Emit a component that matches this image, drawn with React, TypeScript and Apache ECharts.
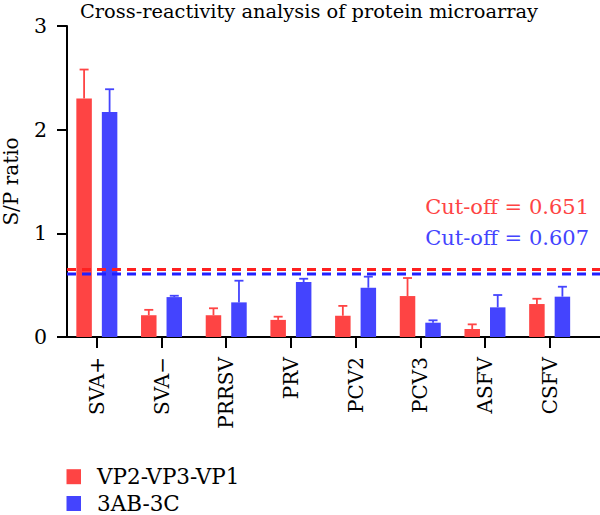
import React, { useEffect, useRef } from "react";
import * as echarts from "echarts";

const categories = ["SVA+", "SVA−", "PRRSV", "PRV", "PCV2", "PCV3", "ASFV", "CSFV"];
const seriesNames = ["VP2-VP3-VP1", "3AB-3C"];
const vpMeans = [2.3, 0.21, 0.21, 0.165, 0.205, 0.395, 0.077, 0.318];
const vpErrTops = [2.58, 0.262, 0.277, 0.196, 0.3, 0.569, 0.122, 0.369];
const abMeans = [2.17, 0.385, 0.334, 0.53, 0.475, 0.138, 0.286, 0.389];
const abErrTops = [2.39, 0.398, 0.543, 0.562, 0.582, 0.161, 0.405, 0.485];
const cutoffVp = 0.651;
const cutoffAb = 0.607;
const yTicks = [0, 1, 2, 3];

const RED = "#fe4444";
const BLUE = "#4444fe";
const FONT = "DejaVu Serif";
const BAR_W = 15.5;
const BAR_GAP = 10;

function errorSeries(name: string, means: number[], tops: number[], color: string, side: number) {
  return {
    type: "custom",
    name: name + "-err",
    xAxisIndex: 0,
    yAxisIndex: 0,
    silent: true,
    data: means.map((m, i) => [i, m, tops[i]]),
    renderItem: (params: any, api: any) => {
      const base = api.coord([api.value(0), api.value(1)]);
      const top = api.coord([api.value(0), api.value(2)]);
      const x = base[0] + side * (BAR_W + BAR_GAP) / 2;
      return {
        type: "group",
        children: [
          {
            type: "line",
            shape: { x1: x, y1: base[1], x2: x, y2: top[1] },
            style: { stroke: color, lineWidth: 1.8 },
          },
          {
            type: "line",
            shape: { x1: x - 4.5, y1: top[1], x2: x + 4.5, y2: top[1] },
            style: { stroke: color, lineWidth: 1.8 },
          },
        ],
      };
    },
    z: 1,
  };
}

function legendFor(name: string, top: number) {
  return {
    orient: "vertical",
    left: 66.5,
    top,
    padding: 0,
    icon: "rect",
    itemWidth: 14.5,
    itemHeight: 15,
    data: [name],
    textStyle: { fontFamily: FONT, fontSize: 21.5, lineHeight: 22, color: "#000", padding: [0, 0, 0, 11] },
  };
}

export default function App() {
  const ref = useRef<HTMLDivElement>(null);
  useEffect(() => {
    const chart = echarts.init(ref.current!, null, { renderer: "svg" });
    const option: any = {
      animation: false,
      backgroundColor: "#ffffff",
      textStyle: { fontFamily: FONT, color: "#000" },
      title: {
        text: "Cross-reactivity analysis of protein microarray",
        left: 80,
        top: 0,
        padding: 0,
        textStyle: { fontFamily: FONT, fontSize: 19.4, fontWeight: "normal", color: "#000", lineHeight: 22 },
      },
      legend: [legendFor(seriesNames[0], 465.7), legendFor(seriesNames[1], 492.5)],
      grid: [
        { left: 64.5, right: 18, top: 26, bottom: 178, outerBoundsMode: "none" },
        { left: 67, right: 0, top: 26, bottom: 178, outerBoundsMode: "none" },
      ],
      xAxis: [
        {
          type: "category",
          gridIndex: 0,
          data: categories,
          axisLine: { show: false },
          axisTick: { show: true, alignWithLabel: true, length: 11, lineStyle: { color: "#000", width: 2 } },
          axisLabel: { rotate: 90, margin: 20, fontFamily: FONT, fontSize: 20, color: "#000" },
        },
        {
          type: "value",
          gridIndex: 1,
          min: 0,
          max: 1,
          axisLine: { show: true, onZero: false, lineStyle: { color: "#000", width: 2 } },
          axisTick: { show: false },
          axisLabel: { show: false },
          splitLine: { show: false },
        },
      ],
      yAxis: [
        {
          type: "value",
          gridIndex: 0,
          min: 0,
          max: 3,
          show: false,
          splitLine: { show: false },
        },
        {
          type: "value",
          gridIndex: 1,
          min: 0,
          max: 3,
          interval: 1,
          name: "S/P ratio",
          nameLocation: "middle",
          nameGap: 46,
          nameTextStyle: { fontFamily: FONT, fontSize: 20, color: "#000" },
          axisLine: { show: true, lineStyle: { color: "#000", width: 2 } },
          axisTick: { show: true, length: 10, lineStyle: { color: "#000", width: 2 } },
          axisLabel: {
            margin: 20,
            fontFamily: FONT,
            fontSize: 20.5,
            color: "#000",
            formatter: (v: number) => (yTicks.includes(v) ? String(v) : ""),
          },
          splitLine: { show: false },
        },
      ],
      series: [
        {
          name: seriesNames[0],
          type: "bar",
          xAxisIndex: 0,
          yAxisIndex: 0,
          data: vpMeans,
          barWidth: BAR_W,
          barGap: (BAR_GAP / BAR_W) * 100 + "%",
          itemStyle: { color: RED },
          z: 2,
        },
        {
          name: seriesNames[1],
          type: "bar",
          xAxisIndex: 0,
          yAxisIndex: 0,
          data: abMeans,
          barWidth: BAR_W,
          itemStyle: { color: BLUE },
          z: 2,
        },
        errorSeries(seriesNames[0], vpMeans, vpErrTops, RED, -1),
        errorSeries(seriesNames[1], abMeans, abErrTops, BLUE, 1),
        {
          type: "line",
          name: "cutoff-vp",
          xAxisIndex: 1,
          yAxisIndex: 1,
          data: [[0, cutoffVp], [1, cutoffVp]],
          symbol: "none",
          lineStyle: { color: "#ff2020", width: 3, type: [9, 6] },
          silent: true,
          z: 3,
        },
        {
          type: "line",
          name: "cutoff-ab",
          xAxisIndex: 1,
          yAxisIndex: 1,
          data: [[0, cutoffAb], [1, cutoffAb]],
          symbol: "none",
          lineStyle: { color: "#2020ff", width: 3, type: [9, 6] },
          silent: true,
          z: 3,
        },
      ],
      graphic: [
        {
          type: "text",
          right: 11,
          top: 196,
          style: { text: "Cut-off = " + cutoffVp, fill: RED, font: `21px "${FONT}"` },
        },
        {
          type: "text",
          right: 11,
          top: 227,
          style: { text: "Cut-off = " + cutoffAb, fill: BLUE, font: `21px "${FONT}"` },
        },
      ],
    };
    chart.setOption(option);
    return () => chart.dispose();
  }, []);
  return (
    <div
      ref={ref}
      style={{ position: "absolute", left: 0, top: 0, width: 600, height: 515 }}
    />
  );
}
